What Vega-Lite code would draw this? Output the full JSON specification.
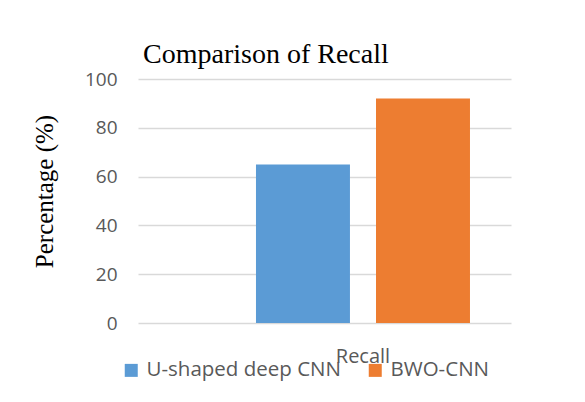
{
  "$schema": "https://vega.github.io/schema/vega-lite/v6.json",
  "width": 373,
  "height": 244,
  "autosize": {"type": "none"},
  "padding": {"left": 138, "top": 79, "right": 74, "bottom": 79},
  "background": "white",
  "data": {
    "values": [
      {"metric": "Recall", "method": "U-shaped deep CNN", "value": 65},
      {"metric": "Recall", "method": "BWO-CNN", "value": 92}
    ]
  },
  "title": {
    "text": "Comparison of Recall",
    "anchor": "start",
    "frame": "group",
    "dx": 5,
    "dy": 38,
    "offset": 17,
    "baseline": "alphabetic",
    "font": "Liberation Serif",
    "fontSize": 28,
    "fontWeight": "normal",
    "color": "black"
  },
  "mark": {"type": "bar"},
  "encoding": {
    "x": {
      "field": "metric",
      "type": "nominal",
      "scale": {"paddingInner": 0, "paddingOuter": 0.3715, "align": 0.742},
      "axis": {
        "title": null,
        "domain": false,
        "ticks": false,
        "tickSize": 0,
        "labelAngle": 0,
        "labelPadding": 39,
        "labelBaseline": "alphabetic",
        "labelFont": "Open Sans",
        "labelFontSize": 20,
        "labelColor": "#595959"
      }
    },
    "xOffset": {
      "field": "method",
      "type": "nominal",
      "scale": {"domain": ["U-shaped deep CNN", "BWO-CNN"], "paddingInner": 0.217, "paddingOuter": 0}
    },
    "y": {
      "field": "value",
      "type": "quantitative",
      "scale": {"domain": [0, 100], "nice": false},
      "axis": {
        "values": [0, 20, 40, 60, 80, 100],
        "title": "Percentage (%)",
        "titleFont": "Liberation Serif",
        "titleFontSize": 25,
        "titleFontWeight": "normal",
        "titleColor": "black",
        "titleAngle": -90,
        "titleAlign": "center",
        "titleBaseline": "alphabetic",
        "titleX": -86,
        "titleY": 112,
        "domain": false,
        "ticks": false,
        "tickSize": 0,
        "labelPadding": 21,
        "labelFont": "Open Sans",
        "labelFontSize": 19,
        "labelColor": "#595959",
        "grid": true,
        "gridColor": "#d9d9d9",
        "gridWidth": 1.5
      }
    },
    "color": {
      "field": "method",
      "type": "nominal",
      "scale": {"domain": ["U-shaped deep CNN", "BWO-CNN"], "range": ["#5B9BD5", "#ED7D31"]},
      "legend": {
        "title": null,
        "orient": "none",
        "direction": "horizontal",
        "legendX": -17,
        "legendY": 281,
        "symbolType": "square",
        "symbolSize": 169,
        "symbolStrokeWidth": 0,
        "symbolOpacity": 1,
        "labelFont": "Open Sans",
        "labelFontSize": 20.5,
        "labelColor": "#595959",
        "labelLimit": 400,
        "labelOffset": 5,
        "columnPadding": 24
      }
    }
  },
  "config": {"view": {"stroke": null}}
}
